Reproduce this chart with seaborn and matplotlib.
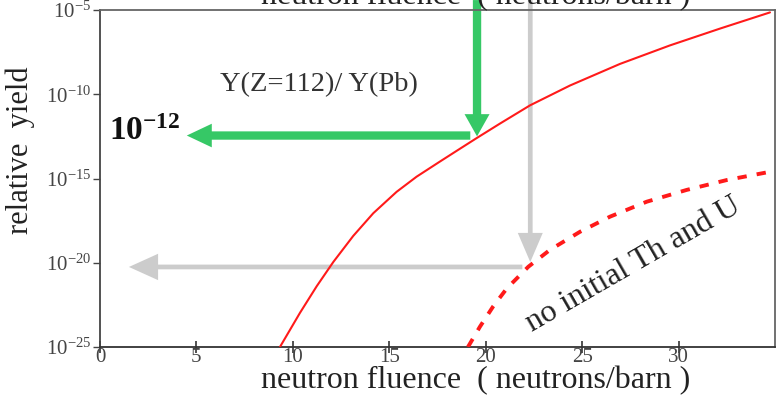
import numpy as np
import pandas as pd
import matplotlib
matplotlib.use("Agg")
import matplotlib.pyplot as plt
import seaborn as sns
from matplotlib.ticker import FixedLocator, FuncFormatter

# ---------------- data ----------------
fluence_full = [9.33, 10.37, 11.24, 12.10, 13.13, 14.17, 15.38, 16.42, 17.63,
                18.67, 19.53, 20.74, 22.30, 24.37, 26.96, 29.55, 32.15, 34.74]
yield_full = [1.0e-25, 1.07e-23, 4.1e-22, 1.12e-20, 3.9e-19, 8.7e-18, 1.62e-16,
              1.29e-15, 1.02e-14, 5.9e-14, 2.5e-13, 1.82e-12, 2.2e-11, 3.3e-10,
              6.3e-9, 7.9e-8, 7.9e-7, 7.2e-6]

fluence_noThU = [19.08, 19.70, 20.39, 21.09, 22.21, 23.33, 24.89, 26.44, 28.35,
                 30.42, 32.50, 34.74]
yield_noThU = [1.0e-25, 1.6e-24, 2.6e-23, 2.95e-22, 5.8e-21, 5.8e-20, 6.9e-19,
               5.4e-18, 4.2e-17, 2.1e-16, 8.1e-16, 2.5e-15]

x_ticks = [0, 5, 10, 15, 20, 25, 30]
y_tick_exps = [-25, -20, -15, -10, -5]

# arrows: (tail, tip) in data coordinates
green_down = ((19.55, 10**-4.41), (19.55, 10**-12.5))
green_left = ((19.2, 10**-12.45), (4.5, 10**-12.45))
gray_down = ((22.31, 10**-4.41), (22.31, 10**-19.96))
gray_left = ((21.9, 10**-20.25), (1.5, 10**-20.25))

df_full = pd.DataFrame({"fluence": fluence_full, "yield": yield_full})
df_no = pd.DataFrame({"fluence": fluence_noThU, "yield": yield_noThU})

# ---------------- style ----------------
sns.set_style("white")
plt.rcParams["font.family"] = ["Liberation Serif", "DejaVu Serif"]
plt.rcParams["mathtext.fontset"] = "custom"
plt.rcParams["mathtext.rm"] = "Liberation Serif"
plt.rcParams["mathtext.bf"] = "Liberation Serif:bold"

fig = plt.figure(figsize=(7.77, 3.95), dpi=100)
ax = fig.add_axes([100 / 777, 48 / 395, 675 / 777, 337 / 395])

green = "#36c866"
gray = "#cccccc"


def arrow(tail, tip, color, tw, hw, hl):
    ax.annotate("", xy=tip, xytext=tail, xycoords="data", textcoords="data",
                annotation_clip=False,
                arrowprops=dict(arrowstyle=f"simple,head_length={hl},head_width={hw},tail_width={tw}",
                                mutation_scale=1, color=color, lw=0,
                                shrinkA=0, shrinkB=0, clip_on=False),
                zorder=1)


arrow(*gray_down, gray, 3.4, 18, 21)
arrow(*gray_left, gray, 3.4, 19, 21)
arrow(*green_down, green, 6.0, 18, 16)
arrow(*green_left, green, 6.0, 17, 18)

sns.lineplot(data=df_full, x="fluence", y="yield", ax=ax, color="#ff1a1a",
             lw=1.5, zorder=3)
sns.lineplot(data=df_no, x="fluence", y="yield", ax=ax, color="#ff1a1a",
             lw=2.8, linestyle=(0, (2.4, 2.6)), zorder=3)

ax.set_yscale("log")
ax.set_xlim(0, 35.0)
ax.set_ylim(1e-25, 1e-5)

ax.xaxis.set_major_locator(FixedLocator(x_ticks))
ax.yaxis.set_major_locator(FixedLocator([10.0 ** e for e in y_tick_exps]))
ax.yaxis.set_minor_locator(FixedLocator([]))
ax.yaxis.set_major_formatter(FuncFormatter(
    lambda v, p: r"$\mathregular{10^{%d}}$" % int(round(np.log10(v)))))

ax.tick_params(axis="x", direction="inout", length=9, width=1.2, pad=-4.0,
               labelsize=15, labelcolor="#444444", color="#333333", bottom=True)
ax.tick_params(axis="y", direction="out", length=5, width=1.0, pad=1.5,
               labelsize=15, labelcolor="#444444", color="#444444", left=True)

for s in ax.spines.values():
    s.set_color("#666666")
    s.set_linewidth(1.3)
ax.spines["bottom"].set_color("#333333")
ax.spines["left"].set_color("#444444")

ax.set_xlabel("neutron fluence  ( neutrons/barn )", fontsize=23, color="#222222")
ax.xaxis.label.set_va("baseline")
ax.xaxis.set_label_coords((476 - 100) / 675, (347 - 388) / 337)
ax.set_ylabel("relative  yield", fontsize=22, color="#222222")
ax.yaxis.label.set_va("center")
ax.yaxis.set_label_coords((20 - 100) / 675, (347 - 150) / 337)

# the cut-off label at the top edge
fig.text(476 / 777, 1 - 4 / 395, "neutron fluence  ( neutrons/barn )",
         ha="center", va="baseline", fontsize=23, color="#222222")

ax.text(11.36, 10 ** -9.4, "Y(Z=112)/ Y(Pb)", fontsize=20.5, color="#333333",
        ha="center", va="center")
ax.text(2.3, 10 ** -12.2, r"$\mathbf{10^{-12}}$", fontsize=24, color="#111111",
        ha="center", va="center")
ax.text(27.65, 10 ** -20.1, "no initial Th and U", fontsize=23, color="#222222",
        ha="center", va="center", rotation=30, rotation_mode="anchor")

fig.savefig("out.png", dpi=100)
